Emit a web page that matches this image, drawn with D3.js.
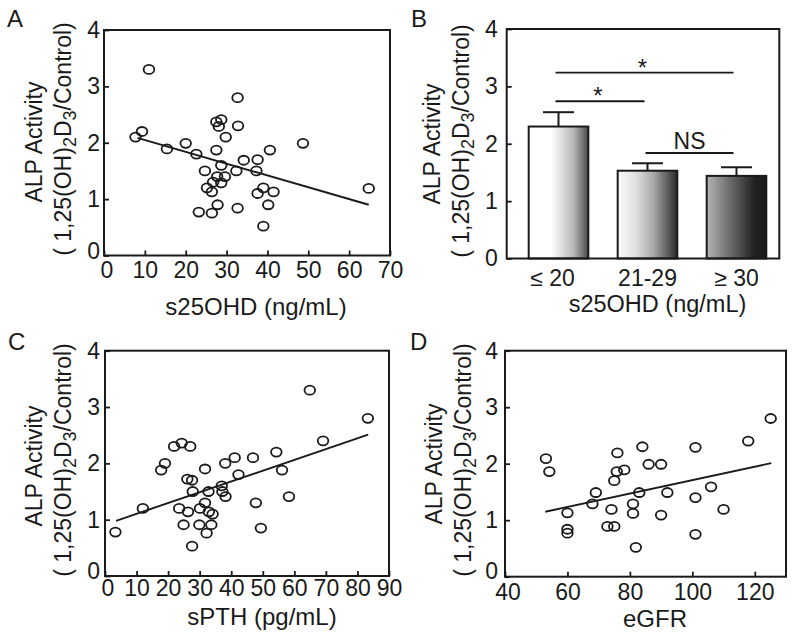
<!DOCTYPE html>
<html><head><meta charset="utf-8">
<script src="https://cdn.jsdelivr.net/npm/d3@7"></script>
<style>
html,body{margin:0;padding:0;background:#fff;}
text{font-family:"Liberation Sans",Arial,sans-serif;fill:#1a1a1a;}
</style></head>
<body>
<svg id="chart" width="795" height="640"></svg>
<script>
// ---- Panel A: s25OHD vs ALP activity ----
const aX = [11.0, 7.7, 9.3, 15.4, 20.0, 22.6, 27.5, 28.7, 28.1, 29.8, 32.7, 32.8, 27.5, 24.7, 28.7, 27.7, 29.6, 26.7, 28.7, 25.2, 26.4, 32.4, 34.2, 37.6, 37.3, 40.6, 39.0, 37.6, 41.5, 40.2, 39.0, 27.8, 23.2, 26.4, 32.7, 48.7, 64.8];
const aY = [3.30, 2.10, 2.20, 1.89, 1.99, 1.80, 2.37, 2.41, 2.29, 2.10, 2.80, 2.30, 1.87, 1.50, 1.60, 1.40, 1.40, 1.30, 1.29, 1.20, 1.13, 1.50, 1.69, 1.70, 1.50, 1.87, 1.20, 1.10, 1.13, 0.90, 0.52, 0.90, 0.77, 0.75, 0.84, 1.99, 1.19];
const aFitX = [8.2, 64.8];
const aFitY = [2.085, 0.90];
const aTicks = [0, 10, 20, 30, 40, 50, 60, 70];

// ---- Panel B: groups of s25OHD ----
const bGroups = ["\u2264 20", "21-29", "\u2265 30"];
const bMeans = [2.30, 1.53, 1.44];
const bErrTop = [2.55, 1.66, 1.59];
const bSig = [
  {from: 0, to: 1, level: 2.74, label: "*"},
  {from: 0, to: 2, level: 3.24, label: "*"},
  {from: 1, to: 2, level: 1.84, label: "NS"}
];

// ---- Panel C: sPTH vs ALP activity ----
const cX = [3.3, 12.0, 17.8, 19.0, 21.9, 24.3, 27.0, 26.1, 27.6, 27.8, 23.5, 26.3, 24.9, 27.6, 29.9, 30.1, 31.7, 31.7, 32.2, 32.8, 32.9, 34.1, 33.7, 37.0, 37.2, 38.2, 38.1, 41.1, 42.3, 46.9, 47.8, 49.4, 54.3, 56.1, 58.3, 64.9, 69.1, 83.3];
const cY = [0.78, 1.20, 1.88, 2.00, 2.30, 2.36, 2.30, 1.72, 1.70, 1.50, 1.20, 1.14, 0.91, 0.53, 0.91, 1.20, 1.90, 1.30, 0.76, 1.50, 1.14, 1.10, 0.91, 1.60, 1.50, 1.41, 2.00, 2.10, 1.80, 2.10, 1.30, 0.85, 2.20, 1.88, 1.41, 3.30, 2.40, 2.80];
const cFitX = [3.5, 83.4];
const cFitY = [0.98, 2.51];
const cTicks = [0, 10, 20, 30, 40, 50, 60, 70, 80, 90];

// ---- Panel D: eGFR vs ALP activity ----
const dX = [53.1, 54.2, 60.0, 60.0, 60.0, 68.0, 69.1, 72.8, 75.0, 74.1, 75.0, 75.8, 76.0, 78.2, 81.0, 81.0, 81.9, 83.0, 84.0, 86.0, 90.0, 90.0, 92.0, 101.0, 101.0, 101.0, 106.0, 110.0, 117.9, 125.1];
const dY = [2.09, 1.86, 1.13, 0.84, 0.77, 1.29, 1.49, 0.89, 0.89, 1.19, 1.70, 1.86, 2.19, 1.89, 1.29, 1.12, 0.52, 1.49, 2.30, 1.99, 1.99, 1.09, 1.49, 2.29, 1.40, 0.75, 1.59, 1.19, 2.40, 2.80];
const dFitX = [52.9, 125.3];
const dFitY = [1.15, 2.01];
const dTicks = [40, 60, 80, 100, 120];

const yTicks = [0, 1, 2, 3, 4];

const svg = d3.select("#chart");
const FS = 23;   // tick labels / y titles
const FT = 24;   // x titles

// gradients for bars
const defs = svg.append("defs");
const grads = [
  [[0, "#ffffff"], [0.38, "#ffffff"], [0.75, "#b8b8b8"], [1, "#4a4a4a"]],
  [[0, "#fbfbfb"], [0.3, "#e0e0e0"], [0.6, "#a8a8a8"], [1, "#2a2a2a"]],
  [[0, "#b4b4b4"], [0.4, "#6a6a6a"], [0.8, "#222222"], [1, "#181818"]]
];
grads.forEach((g, i) => {
  const lg = defs.append("linearGradient").attr("id", "g" + i)
    .attr("x1", "0%").attr("x2", "100%").attr("y1", "0%").attr("y2", "0%");
  g.forEach(s => lg.append("stop").attr("offset", s[0]).attr("stop-color", s[1]));
});

function yTitle(g, b1, b2, c1, c2) {
  g.append("text").attr("transform", `translate(${b1},${c1}) rotate(-90)`)
    .attr("text-anchor", "middle").attr("font-size", FS).text("ALP Activity");
  const t = g.append("text").attr("transform", `translate(${b2},${c2}) rotate(-90)`)
    .attr("text-anchor", "middle").attr("font-size", FS);
  t.append("tspan").text("( 1,25(OH)");
  t.append("tspan").attr("dy", 5).attr("font-size", 18).text("2");
  t.append("tspan").attr("dy", -5).text("D");
  t.append("tspan").attr("dy", 5).attr("font-size", 18).text("3");
  t.append("tspan").attr("dy", -5).text("/Control)");
}

function frame(g, f) {
  g.append("rect").attr("x", f.x0).attr("y", f.y0)
    .attr("width", f.x1 - f.x0).attr("height", f.y1 - f.y0)
    .attr("fill", "none").attr("stroke", "#1a1a1a").attr("stroke-width", 2);
}

function letter(g, s, x, y) {
  g.append("text").attr("x", x).attr("y", y).attr("font-size", 24).text(s);
}

function styleAxis(a) {
  a.select(".domain").remove();
  a.selectAll("line").attr("stroke", "#1a1a1a").attr("stroke-width", 1.8);
  a.selectAll("text").attr("font-size", FS).attr("font-family", "Liberation Sans, Arial, sans-serif").attr("fill", "#1a1a1a");
}

function scatter(cfg) {
  const f = cfg.frame;
  const g = svg.append("g");
  const x = d3.scaleLinear().domain(cfg.xdom).range([f.x0, f.x1]);
  const y = d3.scaleLinear().domain([0, 4]).range([f.y1, f.y0]);
  const xa = g.append("g").attr("transform", `translate(0,${f.y1})`)
    .call(d3.axisBottom(x).tickValues(cfg.xticks).tickFormat(d3.format("d"))
      .tickSizeInner(-5).tickSizeOuter(0).tickPadding(cfg.xpad));
  const ya = g.append("g").attr("transform", `translate(${f.x0},0)`)
    .call(d3.axisLeft(y).tickValues(yTicks).tickFormat(d3.format("d"))
      .tickSizeInner(-5).tickSizeOuter(0).tickPadding(cfg.ypad));
  styleAxis(xa); styleAxis(ya);
  xa.selectAll("text").attr("dx", (d, i) => i === 0 ? 2.5 : 0);
  ya.selectAll("text").attr("y", (d, i) => i === 0 ? -cfg.zeroShift : 0);
  frame(g, f);
  g.append("line")
    .attr("x1", x(cfg.fx[0])).attr("y1", y(cfg.fy[0]))
    .attr("x2", x(cfg.fx[1])).attr("y2", y(cfg.fy[1]))
    .attr("stroke", "#1a1a1a").attr("stroke-width", 1.9);
  g.selectAll("ellipse.p").data(cfg.xs.map((v, i) => [v, cfg.ys[i]])).enter()
    .append("ellipse").attr("class", "p")
    .attr("cx", d => x(d[0])).attr("cy", d => y(d[1]))
    .attr("rx", 5.3).attr("ry", 4.5)
    .attr("fill", "none").attr("stroke", "#1a1a1a").attr("stroke-width", 1.8);
  g.append("text").attr("x", cfg.xt[0]).attr("y", cfg.xt[1])
    .attr("text-anchor", "middle").attr("font-size", FT).text(cfg.xtitle);
  yTitle(g, cfg.yt[0], cfg.yt[1], cfg.yt[2], cfg.yt[3]);
  letter(g, cfg.letter, cfg.lp[0], cfg.lp[1]);
}

scatter({frame: {x0: 104, x1: 390, y0: 30, y1: 255.5}, xdom: [0, 70], xticks: aTicks,
  xs: aX, ys: aY, fx: aFitX, fy: aFitY, xpad: 6.5, ypad: 4, zeroShift: 4,
  xtitle: "s25OHD (ng/mL)", xt: [256, 315], yt: [41.5, 70.5, 142, 139],
  letter: "A", lp: [7, 27]});

scatter({frame: {x0: 105, x1: 389, y0: 350.7, y1: 576}, xdom: [0, 90], xticks: cTicks,
  xs: cX, ys: cY, fx: cFitX, fy: cFitY, xpad: 4, ypad: 5, zeroShift: 5,
  xtitle: "sPTH (pg/mL)", xt: [262, 625], yt: [41.5, 70.5, 466, 460],
  letter: "C", lp: [8, 350]});

scatter({frame: {x0: 505, x1: 786, y0: 350.7, y1: 576.7}, xdom: [40, 130], xticks: dTicks,
  xs: dX, ys: dY, fx: dFitX, fy: dFitY, xpad: 6.5, ypad: 7, zeroShift: 5.5,
  xtitle: "eGFR", xt: [655, 626.7], yt: [441.5, 470.5, 464, 460],
  letter: "D", lp: [410, 350]});

// ---- Panel B bar chart ----
(function () {
  const f = {x0: 506.7, x1: 779.3, y0: 29, y1: 258.5};
  const g = svg.append("g");
  const x = d3.scaleBand().domain(bGroups).range([514, 781]).paddingInner(0.33).paddingOuter(0.165);
  const y = d3.scaleLinear().domain([0, 4]).range([f.y1, f.y0]);
  const ya = g.append("g").attr("transform", `translate(${f.x0},0)`)
    .call(d3.axisLeft(y).tickValues(yTicks).tickFormat(d3.format("d"))
      .tickSizeInner(-5).tickSizeOuter(0).tickPadding(9));
  const xa = g.append("g").attr("transform", `translate(0,${f.y1})`)
    .call(d3.axisBottom(x).tickSize(0).tickPadding(11));
  styleAxis(xa); styleAxis(ya);
  xa.selectAll("text").attr("dx", (d, i) => i === 0 ? -6 : 0);
  const cap = 31;
  bGroups.forEach((k, i) => {
    const cx = x(k) + x.bandwidth() / 2;
    g.append("line").attr("x1", cx).attr("x2", cx).attr("y1", y(bMeans[i])).attr("y2", y(bErrTop[i]))
      .attr("stroke", "#1a1a1a").attr("stroke-width", 2);
    g.append("line").attr("x1", cx - cap / 2).attr("x2", cx + cap / 2).attr("y1", y(bErrTop[i])).attr("y2", y(bErrTop[i]))
      .attr("stroke", "#1a1a1a").attr("stroke-width", 2);
  });
  g.selectAll("rect.bar").data(bGroups).enter().append("rect").attr("class", "bar")
    .attr("x", d => x(d)).attr("width", x.bandwidth())
    .attr("y", (d, i) => y(bMeans[i])).attr("height", (d, i) => y(0) - y(bMeans[i]))
    .attr("fill", (d, i) => `url(#g${i})`).attr("stroke", "#1a1a1a").attr("stroke-width", 2);
  frame(g, f);
  bSig.forEach(s => {
    const c0 = x(bGroups[s.from]) + x.bandwidth() / 2;
    const c1 = x(bGroups[s.to]) + x.bandwidth() / 2;
    const x0 = s.label === "NS" ? c0 - 2 : c0 - 3;
    const x1 = c1 - 3;
    const yy = y(s.level);
    g.append("line").attr("x1", x0).attr("x2", x1).attr("y1", yy).attr("y2", yy)
      .attr("stroke", "#1a1a1a").attr("stroke-width", 1.9);
    if (s.label === "NS") {
      g.append("text").attr("x", (x0 + x1) / 2).attr("y", yy - 4).attr("text-anchor", "middle")
        .attr("font-size", FS).text(s.label);
    } else {
      g.append("text").attr("x", (x0 + x1) / 2 - 2).attr("y", yy + 3).attr("text-anchor", "middle")
        .attr("font-size", 24).text(s.label);
    }
  });
  g.append("text").attr("x", 657.5).attr("y", 311.5).attr("text-anchor", "middle")
    .attr("font-size", 23.5).text("s25OHD (ng/mL)");
  yTitle(g, 439.5, 469, 144, 141);
  letter(g, "B", 411, 27);
})();
</script>
</body></html>
